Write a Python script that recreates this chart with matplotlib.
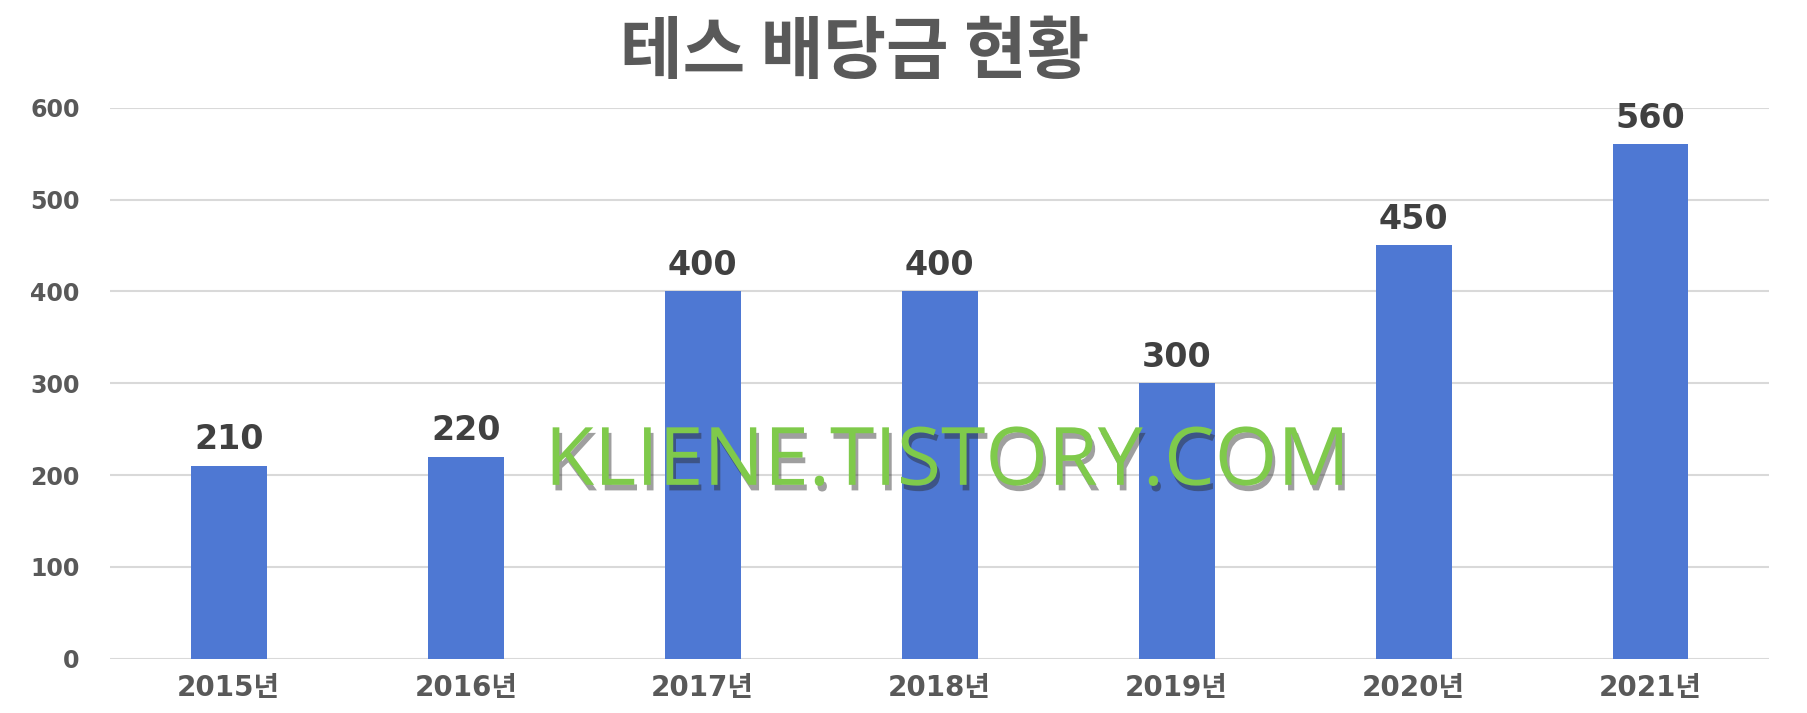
import matplotlib
matplotlib.use("Agg")
import matplotlib.pyplot as plt
import matplotlib.patheffects as pe

# 데이터
years = ['2015년', '2016년', '2017년', '2018년', '2019년', '2020년', '2021년']
dividends = [210, 220, 400, 400, 300, 450, 560]
yticks = [0, 100, 200, 300, 400, 500, 600]

plt.rcParams['font.family'] = ['DejaVu Sans', 'Noto Sans CJK KR']

fig = plt.figure(figsize=(18.07, 7.13), dpi=100)
ax = fig.add_axes([0.061, 0.076, 0.918, 0.773])

x = list(range(len(years)))
ax.bar(x, dividends, width=0.32, color='#4e78d3', zorder=2)

for xi, v in zip(x, dividends):
    ax.annotate(str(v), (xi, v), xytext=(0, 7), textcoords='offset points',
                ha='center', va='bottom', fontsize=24, fontweight='bold',
                color='#404040')

ax.set_xlim(-0.5, 6.5)
ax.set_ylim(0, 600)
ax.set_yticks(yticks)
ax.set_xticks(x)
ax.set_xticklabels(years)
ax.yaxis.grid(True, color='#d9d9d9', linewidth=1.5, zorder=0)
ax.set_axisbelow(True)
for s in ax.spines.values():
    s.set_visible(False)
ax.tick_params(axis='both', length=0, colors='#595959')
ax.tick_params(axis='y', pad=22, labelsize=17)
ax.tick_params(axis='x', pad=11, labelsize=20)
for lbl in ax.get_xticklabels() + ax.get_yticklabels():
    lbl.set_fontweight('bold')

# 제목
fig.text(0.473, 0.925, '테스 배당금 현황', ha='center', va='center',
         fontsize=49, fontweight='heavy', color='#595959',
         family=['Noto Sans CJK KR', 'DejaVu Sans'])

# 워터마크
fig.text(0.524, 0.32, 'KLIENE.TISTORY.COM', ha='center', va='baseline',
         fontsize=58, color='#7fca4b', family=['Open Sans', 'DejaVu Sans'],
         path_effects=[pe.withSimplePatchShadow(offset=(2, -4), shadow_rgbFace='#2a2a2a', alpha=0.45)])

fig.savefig('out.png', dpi=100)
